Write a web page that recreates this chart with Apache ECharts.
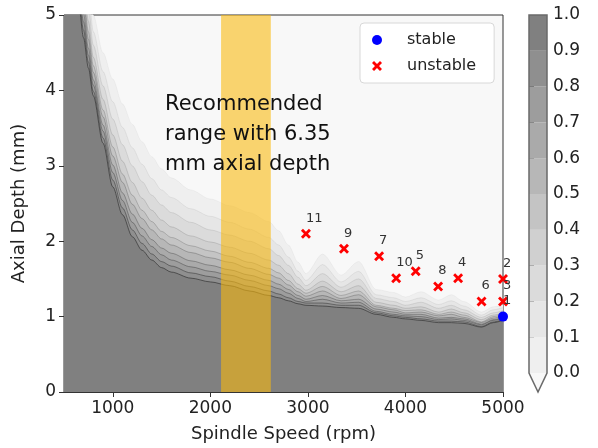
<!DOCTYPE html>
<html>
<head>
<meta charset="utf-8">
<script src="https://cdn.jsdelivr.net/npm/echarts@6/dist/echarts.min.js"></script>
<style>html,body{margin:0;padding:0;background:#fff}#chart{width:598px;height:448px}</style>
</head>
<body>
<div id="chart"></div>
<script>
// Spindle speed samples (rpm)
const speeds = [500, 650, 700, 750, 800, 900, 1000, 1100, 1200, 1300, 1400, 1500, 1600, 1800, 2000, 2200, 2400, 2600, 2700, 2800, 2900, 2980, 3150, 3340, 3520, 3700, 3880, 4000, 4160, 4340, 4470, 4600, 4780, 4900, 5000];
// Contour boundaries (axial depth, mm) of the probability-of-chatter field, level 0.0 ... 0.9
const level00 = [7.5, 7.0, 6.3, 5.6, 5.0, 4.5, 4.15, 3.82, 3.55, 3.32, 3.12, 2.96, 2.84, 2.68, 2.56, 2.47, 2.38, 2.26, 2.14, 1.95, 1.72, 1.57, 1.83, 1.55, 1.73, 1.36, 1.32, 1.26, 1.33, 1.22, 1.29, 1.2, 1.06, 1.13, 1.16];
const level01 = [7.5, 6.61, 5.96, 5.33, 4.78, 4.25, 3.85, 3.51, 3.24, 3.02, 2.83, 2.68, 2.58, 2.43, 2.33, 2.25, 2.16, 2.05, 1.95, 1.79, 1.60, 1.48, 1.69, 1.46, 1.60, 1.29, 1.25, 1.20, 1.25, 1.16, 1.21, 1.14, 1.02, 1.09, 1.12];
const level02 = [7.5, 6.32, 5.71, 5.12, 4.60, 4.06, 3.62, 3.28, 3.00, 2.79, 2.61, 2.48, 2.38, 2.25, 2.15, 2.08, 2.00, 1.90, 1.81, 1.68, 1.52, 1.41, 1.57, 1.39, 1.50, 1.24, 1.20, 1.15, 1.19, 1.11, 1.15, 1.09, 0.99, 1.05, 1.08];
const level03 = [7.5, 6.04, 5.47, 4.92, 4.44, 3.88, 3.41, 3.06, 2.78, 2.57, 2.41, 2.28, 2.19, 2.07, 1.99, 1.92, 1.84, 1.75, 1.68, 1.57, 1.43, 1.35, 1.47, 1.33, 1.41, 1.19, 1.15, 1.11, 1.13, 1.06, 1.10, 1.05, 0.96, 1.02, 1.05];
const level04 = [7.5, 5.83, 5.29, 4.78, 4.33, 3.74, 3.25, 2.89, 2.61, 2.41, 2.26, 2.13, 2.05, 1.94, 1.87, 1.80, 1.72, 1.64, 1.58, 1.48, 1.37, 1.31, 1.40, 1.28, 1.34, 1.15, 1.11, 1.08, 1.09, 1.03, 1.06, 1.02, 0.93, 1.00, 1.03];
const level05 = [7.5, 5.69, 5.16, 4.68, 4.24, 3.65, 3.13, 2.78, 2.49, 2.30, 2.15, 2.03, 1.95, 1.85, 1.78, 1.72, 1.64, 1.56, 1.51, 1.42, 1.33, 1.27, 1.34, 1.24, 1.29, 1.13, 1.09, 1.05, 1.06, 1.01, 1.03, 0.99, 0.92, 0.98, 1.01];
const level06 = [7.5, 5.52, 5.02, 4.56, 4.14, 3.54, 3.01, 2.64, 2.36, 2.17, 2.02, 1.91, 1.84, 1.74, 1.68, 1.62, 1.55, 1.48, 1.43, 1.36, 1.28, 1.23, 1.28, 1.21, 1.23, 1.10, 1.06, 1.03, 1.03, 0.98, 0.99, 0.97, 0.90, 0.96, 0.99];
const level07 = [7.5, 5.39, 4.91, 4.47, 4.07, 3.46, 2.91, 2.54, 2.25, 2.07, 1.93, 1.82, 1.75, 1.66, 1.60, 1.55, 1.48, 1.41, 1.37, 1.31, 1.24, 1.20, 1.23, 1.18, 1.19, 1.07, 1.03, 1.01, 1.00, 0.96, 0.97, 0.95, 0.89, 0.95, 0.98];
const level08 = [7.5, 5.26, 4.80, 4.38, 3.99, 3.37, 2.81, 2.44, 2.15, 1.97, 1.83, 1.73, 1.67, 1.58, 1.53, 1.47, 1.40, 1.34, 1.30, 1.25, 1.20, 1.18, 1.18, 1.15, 1.15, 1.05, 1.01, 0.99, 0.97, 0.94, 0.94, 0.93, 0.87, 0.93, 0.96];
const level09 = [7.5, 5.15, 4.70, 4.30, 3.93, 3.30, 2.72, 2.35, 2.06, 1.88, 1.75, 1.65, 1.59, 1.51, 1.46, 1.41, 1.34, 1.28, 1.25, 1.21, 1.17, 1.15, 1.14, 1.12, 1.11, 1.03, 0.99, 0.97, 0.95, 0.92, 0.92, 0.91, 0.86, 0.92, 0.95];

// Tested cuts
const unstableIds = ['11', '9', '7', '10', '5', '8', '4', '6', '2', '3'];
const unstableSpeed = [2980, 3370, 3730, 3905, 4105, 4335, 4540, 4780, 5000, 5000];
const unstableDepth = [2.10, 1.90, 1.80, 1.51, 1.60, 1.40, 1.51, 1.20, 1.50, 1.20];
const stableIds = ['1'];
const stableSpeed = [5000];
const stableDepth = [1.00];

// Recommended speed range
const recommendedRange = [2110, 2620];

// Tick labels
const xTicks = [1000, 2000, 3000, 4000, 5000];
const yTicks = ['0', '1', '2', '3', '4', '5'];
const cbTicks = ['0.0', '0.1', '0.2', '0.3', '0.4', '0.5', '0.6', '0.7', '0.8', '0.9', '1.0'];
const cbLevels = [0.0, 0.1, 0.2, 0.3, 0.4, 0.5, 0.6, 0.7, 0.8, 0.9, 1.0];

const bandColors = ['#efefef', '#e6e6e6', '#dbdbdb', '#d0d0d0', '#c4c4c4', '#b7b7b7', '#aaaaaa', '#9d9d9d', '#8f8f8f', '#808080'];
const lineAlpha = [0.04, 0.07, 0.1, 0.15, 0.22, 0.28, 0.34, 0.4, 0.5, 0.68];
const levels = [level00, level01, level02, level03, level04, level05, level06, level07, level08, level09];

const FONT = 'DejaVu Sans';
const xMark = 'path://M2,0L5,3L8,0L10,2L7,5L10,8L8,10L5,7L2,10L0,8L3,5L0,2Z';

const contourSeries = levels.map((arr, k) => ({
  type: 'line',
  xAxisIndex: 0, yAxisIndex: 0,
  data: speeds.map((s, i) => [s, arr[i]]),
  showSymbol: false,
  symbol: 'none',
  smooth: 0.3,
  smoothMonotone: 'x',
  silent: true,
  z: 1,
  lineStyle: { width: 1, color: 'rgba(50,50,50,' + lineAlpha[k] + ')' },
  areaStyle: { color: bandColors[k], opacity: 1, origin: 'start' }
}));

const chart = echarts.init(document.getElementById('chart'));
chart.setOption({
  animation: false,
  backgroundColor: '#ffffff',
  grid: [
    { left: 64, right: 95, top: 15, bottom: 56, show: true, backgroundColor: '#f8f8f8', borderColor: '#333', borderWidth: 1, containLabel: false },
    { left: 529, width: 18, top: 15, height: 358, containLabel: false }
  ],
  xAxis: [
    {
      type: 'value', gridIndex: 0, min: 500, max: 5000,
      name: 'Spindle Speed (rpm)', nameLocation: 'middle', nameGap: 33,
      nameTextStyle: { fontFamily: FONT, fontSize: 18, color: '#222' },
      axisLine: { show: true, lineStyle: { color: '#333' } },
      axisTick: { show: true, length: 5, lineStyle: { color: '#333' }, customValues: xTicks },
      axisLabel: { fontFamily: FONT, fontSize: 17, color: '#222', margin: 8, customValues: xTicks, formatter: (v) => String(v) },
      splitLine: { show: false }
    },
    { type: 'value', gridIndex: 1, min: 0, max: 1, show: false }
  ],
  yAxis: [
    {
      type: 'value', gridIndex: 0, min: 0, max: 5, interval: 1,
      name: 'Axial Depth (mm)', nameLocation: 'middle', nameGap: 36,
      nameTextStyle: { fontFamily: FONT, fontSize: 18, color: '#222' },
      axisLine: { show: true, lineStyle: { color: '#333' } },
      axisTick: { show: true, length: 5, lineStyle: { color: '#333' } },
      axisLabel: { fontFamily: FONT, fontSize: 17, color: '#222', margin: 8, formatter: (v) => yTicks[Math.round(v)] },
      splitLine: { show: false }
    },
    {
      type: 'value', gridIndex: 1, min: 0, max: 1, interval: 0.1, position: 'right',
      axisLine: { show: false },
      axisTick: { show: true, length: 5, lineStyle: { color: '#333' } },
      axisLabel: { fontFamily: FONT, fontSize: 17, color: '#222', margin: 6, formatter: (v) => cbTicks[Math.round(v * 10)] },
      splitLine: { show: false }
    }
  ],
  legend: {
    left: 360, top: 23, orient: 'vertical',
    padding: [9, 18, 9, 12], itemGap: 10,
    itemWidth: 26, itemHeight: 10,
    backgroundColor: '#ffffff', borderColor: '#d8d8d8', borderWidth: 1, borderRadius: 4,
    textStyle: { fontFamily: FONT, fontSize: 16, color: '#222', padding: [0, 0, 0, 12] },
    data: [
      { name: 'stable', icon: 'circle', itemStyle: { color: '#0000ff', opacity: 1 } },
      { name: 'unstable', icon: xMark, itemStyle: { color: '#ff0000', opacity: 1 } }
    ],
    selectedMode: false
  },
  graphic: [
    {
      type: 'text', left: 165, top: 90, z: 10,
      style: { text: 'Recommended\nrange with 6.35\nmm axial depth', fontFamily: FONT, fontSize: 21, lineHeight: 30, fill: '#111' }
    }
  ],
  series: [
    ...contourSeries,
    {
      type: 'custom', name: 'recommended', xAxisIndex: 0, yAxisIndex: 0, silent: true, z: 4,
      data: [[recommendedRange[0], recommendedRange[1]]],
      renderItem: (params, api) => {
        const a = api.coord([api.value(0), 5]);
        const b = api.coord([api.value(1), 0]);
        return { type: 'rect', shape: { x: a[0], y: a[1], width: b[0] - a[0], height: b[1] - a[1] }, style: { fill: 'rgba(250,185,10,0.58)' } };
      }
    },
    {
      type: 'scatter', name: 'stable', xAxisIndex: 0, yAxisIndex: 0, z: 6, clip: false,
      symbol: 'circle', symbolSize: 10,
      itemStyle: { color: '#0000ff', opacity: 1 },
      data: stableSpeed.map((s, i) => ({ value: [s, stableDepth[i]], name: stableIds[i] })),
      label: { show: true, formatter: (p) => p.name, position: [5, -4], align: 'left', verticalAlign: 'bottom', fontFamily: FONT, fontSize: 13, color: '#333' }
    },
    {
      type: 'scatter', name: 'unstable', xAxisIndex: 0, yAxisIndex: 0, z: 6, clip: false,
      symbol: xMark, symbolSize: 10,
      itemStyle: { color: '#ff0000', opacity: 1 },
      data: unstableSpeed.map((s, i) => ({ value: [s, unstableDepth[i]], name: unstableIds[i] })),
      label: { show: true, formatter: (p) => p.name, position: [5, -4], align: 'left', verticalAlign: 'bottom', fontFamily: FONT, fontSize: 13, color: '#333' }
    },
    {
      type: 'custom', name: 'colorbar', xAxisIndex: 1, yAxisIndex: 1, silent: true, z: 2,
      data: cbLevels.slice(0, 10).map((lo, i) => [lo, cbLevels[i + 1]]),
      renderItem: (params, api) => {
        const p0 = api.coord([0, api.value(0)]);
        const p1 = api.coord([1, api.value(1)]);
        return { type: 'rect', shape: { x: p0[0], y: p1[1], width: p1[0] - p0[0], height: p0[1] - p1[1] }, style: { fill: bandColors[params.dataIndex] } };
      }
    },
    {
      type: 'custom', name: 'colorbarOutline', xAxisIndex: 1, yAxisIndex: 1, silent: true, z: 3,
      data: [[0]],
      renderItem: (params, api) => {
        const tl = api.coord([0, 1]), tr = api.coord([1, 1]);
        const br = api.coord([1, 0]), bl = api.coord([0, 0]);
        const tip = [(bl[0] + br[0]) / 2, bl[1] + 19];
        return {
          type: 'group', children: [
            { type: 'polygon', shape: { points: [bl, br, tip] }, style: { fill: '#f8f8f8' } },
            { type: 'polygon', shape: { points: [tl, tr, br, tip, bl] }, style: { fill: 'none', stroke: '#6a6a6a', lineWidth: 1.5 } }
          ]
        };
      }
    }
  ]
});
</script>
</body>
</html>
